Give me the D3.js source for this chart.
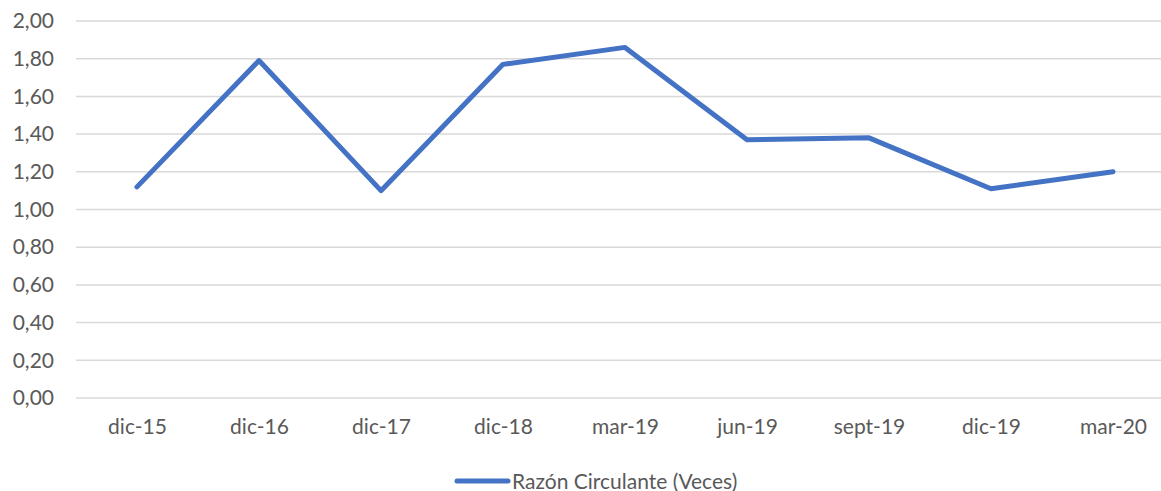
<!DOCTYPE html>
<html>
<head>
<meta charset="utf-8">
<script src="https://cdn.jsdelivr.net/npm/d3@7"></script>
<style>
  body { margin: 0; background: #fff; overflow: hidden; }
  text { font-family: Lato, "Open Sans", sans-serif; fill: #595959; }
</style>
</head>
<body>
<div id="chart"></div>
<script>
const [width, height] = [1161, 491];

// data
const categories = ["dic-15", "dic-16", "dic-17", "dic-18", "mar-19", "jun-19", "sept-19", "dic-19", "mar-20"];
const values = [1.12, 1.79, 1.10, 1.77, 1.86, 1.37, 1.38, 1.11, 1.20];
const yTicks = [0, 0.2, 0.4, 0.6, 0.8, 1.0, 1.2, 1.4, 1.6, 1.8, 2.0];
const seriesName = "Razón Circulante (Veces)";

const plot = { left: 76, right: 1174, top: 21, bottom: 398 };
const fontSize = 21;

const svg = d3.select("#chart")
    .append("svg")
    .attr("width", width)
    .attr("height", height);

const x = d3.scalePoint()
    .domain(categories)
    .range([plot.left, plot.right])
    .padding(0.5);

const y = d3.scaleLinear()
    .domain([0, 2])
    .range([plot.bottom, plot.top]);

const fmt = v => d3.format(".2f")(v).replace(".", ",");

// gridlines
svg.append("g")
    .selectAll("line")
    .data(yTicks)
    .enter()
    .append("line")
    .attr("x1", plot.left)
    .attr("x2", plot.right)
    .attr("y1", d => y(d))
    .attr("y2", d => y(d))
    .attr("stroke", "#d9d9d9")
    .attr("stroke-width", 1.5);

// y axis labels
const yAxis = d3.axisLeft(y).tickValues(yTicks).tickFormat(fmt).tickSize(0).tickPadding(0);
svg.append("g")
    .attr("transform", "translate(54,0)")
    .call(yAxis)
    .call(g => g.select(".domain").remove())
    .selectAll("text")
    .attr("font-size", fontSize)
    .attr("fill", "#595959");

// x axis labels
const xAxis = d3.axisBottom(x).tickSize(0).tickPadding(0);
svg.append("g")
    .attr("transform", `translate(0, ${plot.bottom + 21})`)
    .call(xAxis)
    .call(g => g.select(".domain").remove())
    .selectAll("text")
    .attr("font-size", fontSize)
    .attr("fill", "#595959");

d3.selectAll(".tick text").style("font-family", "Lato, 'Open Sans', sans-serif");

// line
const line = d3.line()
    .x((d, i) => x(categories[i]))
    .y(d => y(d));

svg.append("path")
    .datum(values)
    .attr("fill", "none")
    .attr("stroke", "#4472c4")
    .attr("stroke-width", 5)
    .attr("stroke-linejoin", "round")
    .attr("stroke-linecap", "round")
    .attr("d", line);

// legend
const legend = svg.append("g").attr("transform", "translate(455, 481)");
legend.append("line")
    .attr("x1", 2).attr("x2", 53)
    .attr("y1", 0).attr("y2", 0)
    .attr("stroke", "#4472c4")
    .attr("stroke-width", 5)
    .attr("stroke-linecap", "round");
legend.append("text")
    .attr("x", 57)
    .attr("y", 7.5)
    .attr("font-size", fontSize)
    .text(seriesName);
</script>
</body>
</html>
